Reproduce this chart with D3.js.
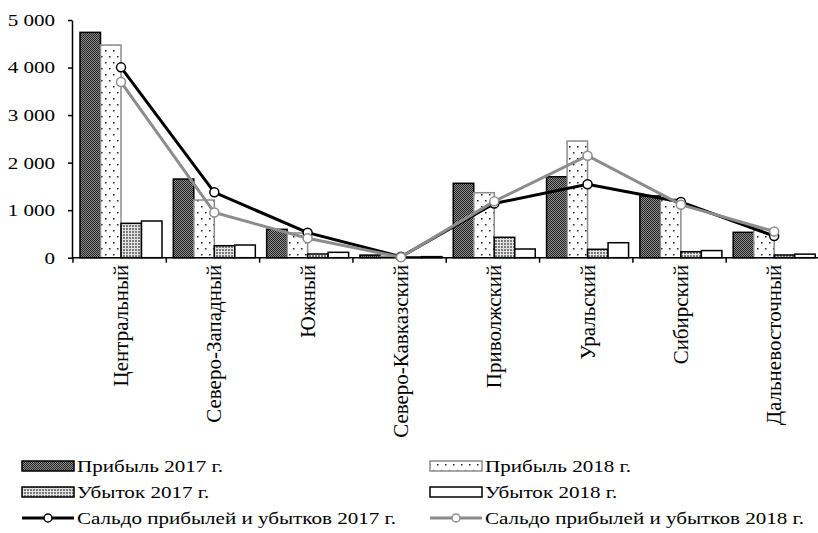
<!DOCTYPE html>
<html>
<head>
<meta charset="utf-8">
<script src="https://cdn.jsdelivr.net/npm/d3@7"></script>
<style>
  body { margin: 0; background: #fff; }
  svg { display: block; font-family: "Liberation Serif", "Times New Roman", serif; }
</style>
</head>
<body>
<svg id="chart" width="818" height="533"></svg>
<script>
// Federal districts
const regions = ['Центральный', 'Северо-Западный', 'Южный', 'Северо-Кавказский',
  'Приволжский', 'Уральский', 'Сибирский', 'Дальневосточный'];

const profit2017 = [4740, 1655, 597, 55, 1565, 1703, 1300, 534];
const profit2018 = [4473, 1213, 520, 30, 1367, 2454, 1230, 600];
const loss2017 = [723, 252, 78, 15, 429, 177, 126, 57];
const loss2018 = [772, 267, 113, 22, 183, 315, 150, 75];
const balance2017 = [4004, 1375, 526, 20, 1140, 1544, 1171, 456];
const balance2018 = [3695, 950, 410, 12, 1185, 2145, 1115, 551];

const yTicks = [0, 1000, 2000, 3000, 4000, 5000];

const barSeries = [
  { key: 'p17', name: 'Прибыль 2017 г.', values: profit2017, fill: 'url(#pat-p17)', stroke: '#000' },
  { key: 'p18', name: 'Прибыль 2018 г.', values: profit2018, fill: 'url(#pat-p18)', stroke: '#8c8c8c' },
  { key: 'l17', name: 'Убыток 2017 г.', values: loss2017, fill: 'url(#pat-l17)', stroke: '#000' },
  { key: 'l18', name: 'Убыток 2018 г.', values: loss2018, fill: '#fff', stroke: '#000' }
];
const lineSeries = [
  { key: 's17', name: 'Сальдо прибылей и убытков 2017 г.', values: balance2017, color: '#000' },
  { key: 's18', name: 'Сальдо прибылей и убытков 2018 г.', values: balance2018, color: '#8c8c8c' }
];

const svg = d3.select('#chart');
const defs = svg.append('defs');

// horizontal text in the source is wider than the font
const stretch = 1.24;

// profit 2017: dark checker
const p17 = defs.append('pattern').attr('id', 'pat-p17')
  .attr('patternUnits', 'userSpaceOnUse').attr('width', 2).attr('height', 2);
p17.append('rect').attr('width', 2).attr('height', 2).attr('fill', '#8e8e8e');
p17.append('rect').attr('width', 1).attr('height', 1).attr('fill', '#222');
p17.append('rect').attr('x', 1).attr('y', 1).attr('width', 1).attr('height', 1).attr('fill', '#222');

// profit 2018: sparse dots
const p18 = defs.append('pattern').attr('id', 'pat-p18')
  .attr('patternUnits', 'userSpaceOnUse').attr('width', 8).attr('height', 12);
p18.append('rect').attr('width', 8).attr('height', 12).attr('fill', '#fff');
p18.append('rect').attr('x', 1).attr('y', 2).attr('width', 1.5).attr('height', 1.5).attr('fill', '#222');
p18.append('rect').attr('x', 5).attr('y', 8).attr('width', 1.5).attr('height', 1.5).attr('fill', '#222');

// loss 2017: fine light dots
const l17 = defs.append('pattern').attr('id', 'pat-l17')
  .attr('patternUnits', 'userSpaceOnUse').attr('width', 3).attr('height', 3);
l17.append('rect').attr('width', 3).attr('height', 3).attr('fill', '#e4e4e4');
l17.append('rect').attr('width', 2).attr('height', 2).attr('fill', '#7a7a7a');

const plotLeft = 72, plotRight = 818.5, plotTop = 20, plotBottom = 257.7;

const x0 = d3.scaleBand().domain(regions).range([plotLeft + 1, plotRight + 1]);
const x1 = d3.scaleBand().domain(barSeries.map(s => s.key)).range([7, 89]);
const groupMid = 48;
const y = d3.scaleLinear().domain([0, 5000]).range([plotBottom, plotTop]);

// bars
barSeries.forEach(s => {
  svg.append('g').selectAll('rect')
    .data(s.values.map((v, i) => ({ region: regions[i], v })))
    .join('rect')
    .attr('x', d => x0(d.region) + x1(s.key))
    .attr('y', d => y(d.v))
    .attr('width', x1.bandwidth())
    .attr('height', d => plotBottom - y(d.v))
    .attr('fill', s.fill)
    .attr('stroke', s.stroke)
    .attr('stroke-width', 1.5);
});

// y axis
const yAxis = svg.append('g')
  .attr('transform', `translate(${plotLeft},0)`)
  .call(d3.axisLeft(y).tickValues(yTicks).tickSize(4).tickSizeOuter(0)
    .tickFormat(d => d3.format(',')(d).replace(/,/g, ' ')));
yAxis.select('.domain').attr('stroke', '#000').attr('stroke-width', 1.5);
yAxis.selectAll('.tick line').attr('stroke', '#000').attr('stroke-width', 1.5);
yAxis.selectAll('.tick text')
  .attr('x', null)
  .attr('transform', `translate(-17,0) scale(${stretch},1)`)
  .attr('font-size', 17).attr('font-family', '"Liberation Serif", serif').attr('fill', '#000');

// x axis with ticks at category boundaries
const xAxisG = svg.append('g');
xAxisG.append('line')
  .attr('x1', plotLeft).attr('x2', plotRight).attr('y1', plotBottom).attr('y2', plotBottom)
  .attr('stroke', '#000').attr('stroke-width', 1.5);
xAxisG.selectAll('line.b')
  .data(regions.concat(['end']))
  .join('line')
  .attr('class', 'b')
  .attr('x1', (d, i) => x0.range()[0] + i * x0.step())
  .attr('x2', (d, i) => x0.range()[0] + i * x0.step())
  .attr('y1', plotBottom).attr('y2', plotBottom + 5)
  .attr('stroke', '#000').attr('stroke-width', 1.5);
xAxisG.selectAll('text')
  .data(regions)
  .join('text')
  .attr('transform', d => `translate(${x0(d) + groupMid + 7},${plotBottom + 7}) rotate(-90)`)
  .attr('text-anchor', 'end')
  .attr('font-size', 21)
  .text(d => d);

// lines
const line = d3.line()
  .x((d, i) => x0(regions[i]) + groupMid)
  .y(d => y(d));

lineSeries.forEach(s => {
  svg.append('path')
    .datum(s.values)
    .attr('d', line)
    .attr('fill', 'none')
    .attr('stroke', s.color)
    .attr('stroke-width', 3);
  svg.append('g').selectAll('circle')
    .data(s.values)
    .join('circle')
    .attr('cx', (d, i) => x0(regions[i]) + groupMid)
    .attr('cy', d => y(d))
    .attr('r', 4.5)
    .attr('fill', '#fff')
    .attr('stroke', s.color)
    .attr('stroke-width', 1.5);
});

// legend
const legCols = [22, 430];
const legRows = [466, 492, 518];
const legend = svg.append('g').attr('font-size', 17);

const legendText = (lx, ly, name) => legend.append('text')
  .attr('transform', `translate(${lx + 55},${ly}) scale(${stretch},1)`)
  .attr('dy', '0.35em')
  .text(name);

barSeries.forEach((s, i) => {
  const lx = legCols[i % 2], ly = legRows[Math.floor(i / 2)];
  legend.append('rect')
    .attr('x', lx).attr('y', ly - 5).attr('width', 52).attr('height', 10)
    .attr('fill', s.fill).attr('stroke', s.stroke).attr('stroke-width', 1.5);
  legendText(lx, ly, s.name);
});

lineSeries.forEach((s, i) => {
  const lx = legCols[i], ly = legRows[2];
  legend.append('line')
    .attr('x1', lx).attr('x2', lx + 52).attr('y1', ly).attr('y2', ly)
    .attr('stroke', s.color).attr('stroke-width', 3);
  legend.append('circle')
    .attr('cx', lx + 26).attr('cy', ly).attr('r', 4)
    .attr('fill', '#fff').attr('stroke', s.color).attr('stroke-width', 1.5);
  legendText(lx, ly, s.name);
});
</script>
</body>
</html>
